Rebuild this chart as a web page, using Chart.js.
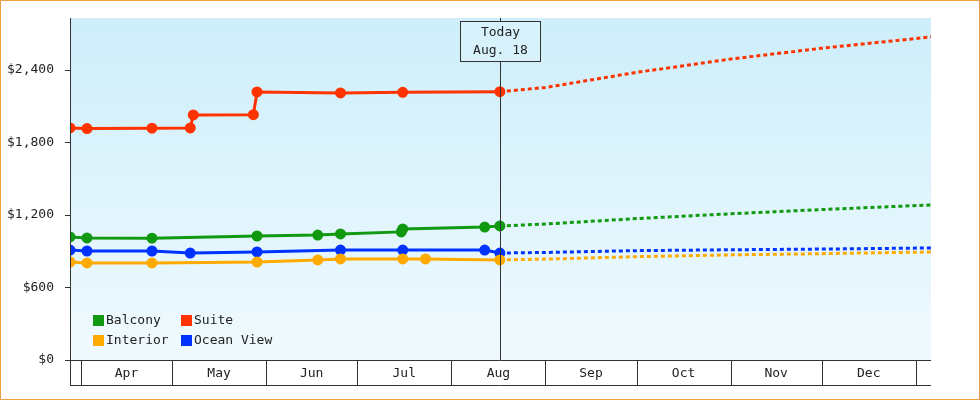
<!DOCTYPE html><html><head><meta charset="utf-8">
<script src="https://cdn.jsdelivr.net/npm/chart.js@4"></script>
<style>html,body{margin:0;padding:0;background:#fff}#w{width:978px;height:398px;border:1px solid #f0a040}</style></head><body>
<div id="w"><canvas id="c" width="978" height="398"></canvas></div>
<script>
// x values are day-of-year (Jan 1 = 0)
const monthLabels=['Apr','May','Jun','Jul','Aug','Sep','Oct','Nov','Dec'];
const monthStarts=[90,120,151,181,212,243,273,304,334,365];
const todayDay=228, todayLabel=['Today','Aug. 18'];
const suiteDays=[86.4,92,113.4,126,127,146.8,148,175.5,196,228];
const suiteVals=[1920,1915,1918,1920,2028,2030,2218,2210,2215,2220];
const balconyDays=[86.4,92,113.4,148,168,175.5,195.5,196,223,228];
const balconyVals=[1018,1010,1008,1026,1034,1043,1060,1084,1100,1109];
const oceanDays=[86.4,92,113.4,126,148,175.5,196,223,228];
const oceanVals=[910,902,902,885,894,910,910,910,885];
const interiorDays=[86.4,92,113.4,148,168,175.5,196,203.5,228];
const interiorVals=[811,803,803,811,828,836,836,836,828];
const fcDays=[228,243,273,304,334,370];
const suiteFc=[2220,2255,2380,2490,2580,2673];
const balconyFc=[1109,1125,1170,1210,1245,1283];
const oceanFc=[885,890,905,912,918,927];
const interiorFc=[828,835,855,870,880,894];
const yTicks=[0,600,1200,1800,2400];
const FONT="'DejaVu Sans Mono', monospace";
const zip=(a,b)=>a.map((x,i)=>({x,y:b[i]}));
function solid(label,color,d,v){return{label,data:zip(d,v),borderColor:color,backgroundColor:color,borderWidth:3,pointRadius:4,pointStyle:'circle',tension:0};}
function fc(color,v){return{label:'_fc',data:zip(fcDays,v),borderColor:color,borderWidth:3,borderDash:[4,3],pointRadius:0,tension:0};}
const legendItems=[['Balcony','#119911'],['Suite','#ff3300'],['Interior','#ffaa00'],['Ocean View','#0033ff']];
const deco={id:'deco',
 beforeDraw(ch){const {ctx,chartArea:a}=ch;const g=ctx.createLinearGradient(0,a.top,0,a.bottom);g.addColorStop(0,'#cdeefa');g.addColorStop(1,'#f0fafe');ctx.fillStyle=g;ctx.fillRect(a.left,a.top,a.right-a.left,a.bottom-a.top);},
 afterDraw(ch){const {ctx,chartArea:a,scales:{x,y}}=ch;ctx.save();ctx.strokeStyle='#333';ctx.lineWidth=1;
  ctx.beginPath();ctx.moveTo(a.left+0.5,a.top);ctx.lineTo(a.left+0.5,a.bottom+25);ctx.moveTo(a.left,a.bottom+0.5);ctx.lineTo(a.right,a.bottom+0.5);ctx.moveTo(a.left,a.bottom+25.5);ctx.lineTo(a.right,a.bottom+25.5);
  monthStarts.forEach(m=>{const px=Math.round(x.getPixelForValue(m))+0.5;if(px<=a.right){ctx.moveTo(px,a.bottom);ctx.lineTo(px,a.bottom+25);}});
  yTicks.forEach(t=>{const py=Math.round(y.getPixelForValue(t))+0.5;ctx.moveTo(a.left-5,py);ctx.lineTo(a.left,py);});
  ctx.stroke();
  ctx.fillStyle='#222';ctx.font='13px '+FONT;ctx.textAlign='center';ctx.textBaseline='middle';
  monthLabels.forEach((l,i)=>{ctx.fillText(l,(x.getPixelForValue(monthStarts[i])+Math.min(a.right,x.getPixelForValue(monthStarts[i+1])))/2,a.bottom+14);});
  const tx=Math.round(x.getPixelForValue(todayDay))+0.5;
  ctx.beginPath();ctx.moveTo(tx,a.top);ctx.lineTo(tx,a.bottom);ctx.stroke();
  ctx.fillStyle='#d8f2fc';ctx.fillRect(tx-40,20.5,80,40);ctx.strokeRect(tx-40,20.5,80,40);
  ctx.fillStyle='#222';ctx.fillText(todayLabel[0],tx,32);ctx.fillText(todayLabel[1],tx,50);
  ctx.textAlign='left';
  legendItems.forEach((it,i)=>{const lx=a.left+23+(i%2)*88,ly=320+Math.floor(i/2)*20;ctx.fillStyle=it[1];ctx.fillRect(lx,ly-6,11,11);ctx.fillStyle='#222';ctx.fillText(it[0],lx+13,ly);});
  ctx.restore();}};
new Chart(document.getElementById('c'),{type:'line',
 data:{datasets:[fc('#119911',balconyFc),fc('#0033ff',oceanFc),fc('#ffaa00',interiorFc),fc('#ff3300',suiteFc),
  solid('Interior','#ffaa00',interiorDays,interiorVals),solid('Ocean View','#0033ff',oceanDays,oceanVals),solid('Balcony','#119911',balconyDays,balconyVals),solid('Suite','#ff3300',suiteDays,suiteVals)]},
 options:{responsive:false,animation:false,layout:{padding:{top:17,right:48,bottom:14,left:0}},
  plugins:{legend:{display:false},tooltip:{enabled:false}},
  scales:{x:{type:'linear',min:86.4,max:370,grid:{display:false},border:{display:false},ticks:{display:false},afterFit(s){s.height=25;}},
   y:{min:0,max:2830,grid:{display:false},border:{display:false},afterBuildTicks(s){s.ticks=yTicks.map(v=>({value:v}));},
    ticks:{color:'#222',font:{family:FONT,size:13},padding:8,callback:v=>'$'+v.toLocaleString('en-US')},afterFit(s){s.width=69;}}}},
 plugins:[deco]});
</script></body></html>
